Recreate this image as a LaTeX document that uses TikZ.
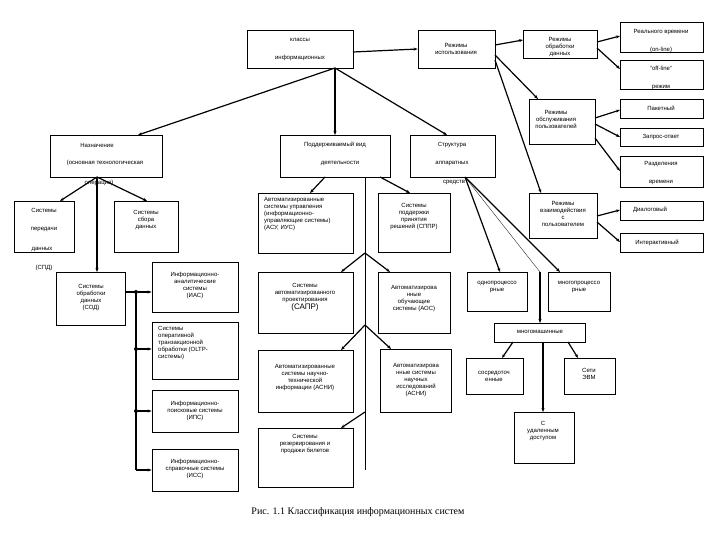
\documentclass[tikz,border=0pt]{standalone}
\usepackage{fontspec}
\setmainfont{Liberation Sans}
\newfontfamily\capf{Liberation Serif}
\usetikzlibrary{fit,arrows.meta}
\newcommand\B[5]{\node[draw,line width=0.8pt,fit={(#2,#3)(#4,#5)},inner sep=0pt] (#1) {};}
\newcommand\T[4]{\node[txt] (#1) at (#2,#3) {#4};}
\begin{document}
\begin{tikzpicture}[x=1pt,y=-1pt,
 txt/.style={font=\fontsize{6}{7}\selectfont,align=center,inner sep=0pt},
 ar/.style={line width=1.2pt,-{Stealth[length=4pt,width=3pt]}},
 ln/.style={line width=1.2pt},
 dot/.style={circle,fill,inner sep=0pt,minimum size=4pt}]
\useasboundingbox[fill=white] (0,0) rectangle (720,540);
% boxes
\B{top}{247}{30}{353}{68}
\B{ri}{418}{30}{495}{68}
\B{ro}{523}{30}{597}{58}
\B{rv}{620}{22}{703}{52}
\B{off}{620}{60}{703}{89}
\B{rs}{529}{99}{595}{144}
\B{pak}{620}{99}{703}{118}
\B{zap}{620}{128}{703}{146}
\B{raz}{620}{156}{703}{187}
\B{rvz}{529}{193}{597}{238}
\B{dia}{620}{201}{703}{220}
\B{int}{620}{233}{703}{252}
\B{nazn}{50}{135}{162}{177}
\B{spd}{14}{201}{74}{252}
\B{ssd}{114}{201}{178}{252}
\B{sod}{56}{272}{125}{325}
\B{pvd}{280}{135}{390}{177}
\B{str}{410}{135}{495}{177}
\B{asu}{258}{193}{353}{253}
\B{sppr}{378}{193}{450}{252}
\B{sapr}{258}{272}{353}{333}
\B{aos}{378}{272}{450}{333}
\B{asni}{258}{350}{353}{412}
\B{asni2}{380}{349}{451}{412}
\B{bil}{258}{428}{353}{487}
\B{ias}{152}{262}{238}{312}
\B{oltp}{152}{322}{238}{379}
\B{ips}{152}{390}{238}{432}
\B{iss}{152}{449}{238}{491}
\B{odn}{467}{272}{527}{311}
\B{mnp}{548}{272}{610}{311}
\B{mnm}{494}{323}{585}{342}
\B{sos}{466}{358}{523}{394}
\B{set}{564}{358}{615}{394}
\B{ud}{514}{412}{574}{463}
% texts
\T{t1}{300}{40}{классы}
\T{t2}{300}{58}{информационных}
\T{t3}{456}{49}{Режимы\\использования}
\T{t4}{560}{47}{Режимы\\обработки\\данных}
\T{t5}{661}{32}{Реального времени}
\T{t6}{661}{50}{(on-line)}
\T{t7}{661}{68}{"off-line"}
\T{t8}{661}{88}{режим}
\T{t9}{556}{119}{Режимы\\обслуживания\\пользователей}
\T{t10}{661}{108}{Пакетный}
\T{t11}{661}{137}{Запрос-ответ}
\T{t12}{661}{164}{Разделения}
\T{t13}{661}{183}{времени}
\T{t14}{563}{214}{Режимы\\взаимодействия\\с\\пользователем}
\T{t15}{650}{210}{Диалоговый}
\T{t16}{657}{243}{Интерактивный}
\T{t17}{97}{145}{Назначение}
\T{t18}{105}{163}{(основная технологическая}
\T{t19}{99}{183}{операция)}
\T{t20}{44}{210}{Системы}
\T{t21}{44}{230}{передачи}
\T{t22}{42}{249}{данных}
\T{t23}{44}{268}{(СПД)}
\T{t24}{146}{220}{Системы\\сбора\\данных}
\T{t25}{91}{298}{Системы\\обработки\\данных\\(СОД)}
\T{t26}{335}{145}{Поддерживаемый вид}
\T{t27}{340}{163}{деятельности}
\T{t28}{452}{145}{Структура}
\T{t29}{452}{164}{аппаратных}
\T{t30}{454}{183}{средств}
\node[txt,align=left,anchor=north west] (t31) at (264,197) {Автоматизированные\\системы управления\\(информационно-\\управляющие системы)\\(АСУ, ИУС)};
\T{t32}{414}{217}{Системы\\поддержки\\принятия\\решений (СППР)}
\T{t33}{305}{297}{Системы\\автоматизированного\\проектирования\\\fontsize{8}{10}\selectfont(САПР)}
\T{t34}{414}{299}{Автоматизирова\\нные\\обучающие\\системы (АОС)}
\T{t35}{305}{378}{Автоматизированные\\системы научно-\\технической\\информации (АСНИ)}
\T{t36}{416}{380}{Автоматизирова\\нные системы\\научных\\исследований\\(АСНИ)}
\T{t37}{305}{444}{Системы\\резервирования и\\продажи билетов}
\T{t38}{195}{285}{Информационно-\\аналитические\\системы\\(ИАС)}
\node[txt,align=left,anchor=north west] (t39) at (158,326) {Системы\\оперативной\\транзакционной\\обработки (OLTP-\\системы)};
\T{t40}{195}{411}{Информационно-\\поисковые системы\\(ИПС)}
\T{t41}{195}{469}{Информационно-\\справочные системы\\(ИСС)}
\T{t42}{497}{287}{однопроцессо\\рные}
\T{t43}{579}{287}{многопроцессо\\рные}
\T{t44}{540}{332}{многомашинные}
\T{t45}{494}{376}{сосредоточ\\енные}
\T{t46}{589}{374}{Сети\\ЭВМ}
\T{t47}{543}{431}{С\\удаленным\\доступом}
\node[font=\capf\fontsize{10}{12}\selectfont,inner sep=0pt] (cap) at (358,512) {Рис. 1.1 Классификация информационных систем};
% connectors
\coordinate (tb) at (335,68);
\draw[ar] (tb) -- (138,135);
\draw[ar] (tb) -- (335,135);
\draw[ar] (tb) -- (447,135);
\draw[ar] (353,52) -- (ri.west);
\draw[ar] (495,45) -- (523,40);
\draw[ar] (495,55) -- (538,99);
\draw[ar] (495,60) -- (541,193);
\draw[ar] (597,42) -- (620,36);
\draw[ar] (597,48) -- (620,69);
\draw[ar] (595,118) -- (620,110);
\draw[ar] (595,124) -- (620,137);
\draw[ar] (595,138) -- (620,171);
\draw[ar] (597,216) -- (620,210);
\draw[ar] (597,222) -- (620,242);
% Назначение
\coordinate (nb) at (97,177);
\draw[ar] (nb) -- (60,201);
\draw[ar] (nb) -- (147,201);
\draw[ar] (nb) -- (97,272);
% СОД
\coordinate (v1) at (136,292);
\coordinate (v4) at (136,470);
\draw[ln] (125,292) -- (v1) -- (v4);
\node[dot] (d1) at (136,292) {}; \node[dot] (d2) at (136,349) {}; \node[dot] (d3) at (136,411) {};
\draw[ar] (d1) -- (ias.west|-d1);
\draw[ar] (d2) -- (oltp.west|-d2);
\draw[ar] (d3) -- (ips.west|-d3);
\draw[ar] (v4) -- (iss.west|-v4);
% Поддерживаемый
\coordinate (p0) at (365,177); \coordinate (p1) at (365,253); \coordinate (p2) at (365,325); \coordinate (p3) at (365,412);
\draw[line width=0.6pt] (p0) -- (365,470);
\draw[ar] (325,177) -- (310,193);
\draw[ar] (380,177) -- (410,193);
\draw[ar] (p1) -- (341,272);
\draw[ar] (p1) -- (390,272);
\draw[ar] (p2) -- (341,350);
\draw[ar] (p2) -- (391,349);
\draw[ar] (p3) -- (341,428);
% Структура
\coordinate (s0) at (465,177);
\draw[ar] (s0) -- (500,272);
\draw[ar] (s0) -- (560,272);
\draw[line width=0.3pt] (s0) -- (540,272);
\draw[ar] (540,272) -- (540,323);
\draw[ar] (513,342) -- (502,358);
\draw[ar] (568,342) -- (578,358);
\draw[ar] (543,342) -- (543,412);
\end{tikzpicture}
\end{document}
